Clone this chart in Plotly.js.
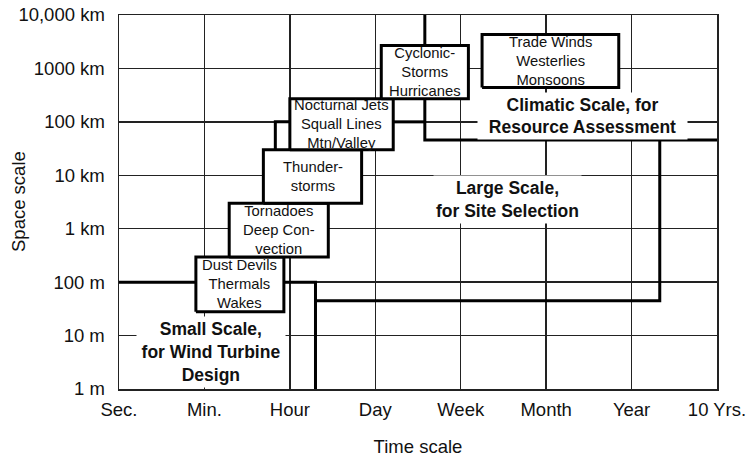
<!DOCTYPE html>
<html>
<head>
<meta charset="utf-8">
<script src="https://cdn.plot.ly/plotly-3.0.1.min.js"></script>
<style>html,body{margin:0;padding:0;background:#fff;}#chart{width:748px;height:457px;}</style>
</head>
<body>
<div id="chart"></div>
<script>
// Axis categories and ticks
const timeLabels = ['Sec.', 'Min.', 'Hour', 'Day', 'Week', 'Month', 'Year', '10 Yrs.'];
const spaceTicks = [1, 10, 100, 1000, 1e4, 1e5, 1e6, 1e7];
const spaceLabels = ['1 m', '10 m', '100 m', '1 km', '10 km', '100 km', '1000 km', '10,000 km'];
const xTitle = 'Time scale';
const yTitle = 'Space scale';

// Phenomena boxes (time in category units, space in metres)
const phenomena = ['Dust Devils<br>Thermals<br>Wakes', 'Tornadoes<br>Deep Con-<br>vection', 'Thunder-<br>storms',
  'Nocturnal Jets<br>Squall Lines<br>Mtn/Valley', 'Cyclonic-<br>Storms<br>Hurricanes', 'Trade Winds<br>Westerlies<br>Monsoons'];
const timeStart = [0.90, 1.29, 1.69, 2.00, 3.07, 4.25];
const timeEnd   = [1.93, 2.45, 2.84, 3.21, 4.09, 5.85];
const spaceMin  = [28, 295, 3000, 30000, 270000, 440000];
const spaceMax  = [295, 3000, 30000, 270000, 2700000, 4300000];

// Scale boundary lines
const smallBoundaryTime = [0, 2.30, 2.30];
const smallBoundarySpace = [100, 100, 1];
const largeBoundaryTime = [2.30, 6.33, 6.33];
const largeBoundarySpace = [45, 45, 45700];
const climaticBoundaryTime = [3.58, 3.58, 7];
const climaticBoundarySpace = [1e7, 45700, 45700];
const jetStepTime = [1.83, 1.83, 2.0];
const jetStepSpace = [30000, 1e5, 1e5];
const jetRightTime = [3.21, 3.58];
const jetRightSpace = [1e5, 1e5];

// Scale region labels
const regionLabels = ['<b>Small Scale,<br>for Wind Turbine<br>Design</b>', '<b>Large Scale,<br>for Site Selection</b>',
  '<b>Climatic Scale, for<br>Resource Assessment</b>'];
const regionTime = [1.08, 4.55, 5.43];
const regionSpace = [5.0, 3500, 128000];

const FONT = 'Liberation Sans, Arial, Helvetica, sans-serif';
const lineStyle = {color: '#000', width: 3};

const traces = [];
function addLine(x, y) {
  traces.push({x: x, y: y, type: 'scatter', mode: 'lines', line: lineStyle, hoverinfo: 'skip', showlegend: false});
}
addLine(smallBoundaryTime, smallBoundarySpace);
addLine(largeBoundaryTime, largeBoundarySpace);
addLine(climaticBoundaryTime, climaticBoundarySpace);
addLine(jetStepTime, jetStepSpace);
addLine(jetRightTime, jetRightSpace);

for (let i = 0; i < phenomena.length; i++) {
  traces.push({
    x: [timeStart[i], timeEnd[i], timeEnd[i], timeStart[i], timeStart[i]],
    y: [spaceMin[i], spaceMin[i], spaceMax[i], spaceMax[i], spaceMin[i]],
    type: 'scatter', mode: 'lines', fill: 'toself', fillcolor: '#fff',
    line: lineStyle, hoverinfo: 'skip', showlegend: false
  });
}

const annotations = [];
for (let i = 0; i < phenomena.length; i++) {
  annotations.push({
    x: (timeStart[i] + timeEnd[i]) / 2,
    y: (Math.log10(spaceMin[i]) + Math.log10(spaceMax[i])) / 2,
    xref: 'x', yref: 'y', text: phenomena[i], showarrow: false,
    font: {family: FONT, size: 14.8, color: '#111'}
  });
}
const regionSizes = [[144, 66], [null, null], [205, 42]];
for (let i = 0; i < regionLabels.length; i++) {
  const a = {
    x: regionTime[i], y: Math.log10(regionSpace[i]), xref: 'x', yref: 'y',
    text: regionLabels[i], showarrow: false, bgcolor: '#fff', borderpad: 2,
    font: {family: FONT, size: 17.5, color: '#111'}
  };
  if (regionSizes[i][0]) { a.width = regionSizes[i][0]; a.height = regionSizes[i][1]; }
  annotations.push(a);
}
// y-axis title placed like the reference (close to the left edge)
annotations.push({
  x: 0, y: 0.5, xref: 'paper', yref: 'paper', xanchor: 'center', yanchor: 'middle',
  xshift: -101, text: yTitle, textangle: -90, showarrow: false,
  font: {family: FONT, size: 18.5, color: '#111'}
});

const layout = {
  width: 748, height: 457,
  margin: {l: 119, r: 31, t: 15, b: 68},
  paper_bgcolor: '#fff', plot_bgcolor: '#fff',
  font: {family: FONT, size: 18.5, color: '#111'},
  showlegend: false,
  xaxis: {
    range: [0, 7], tickvals: timeLabels.map((_, i) => i), ticktext: timeLabels,
    showgrid: true, gridcolor: '#222', gridwidth: 1.3, zeroline: false,
    showline: true, linecolor: '#222', linewidth: 1.5, mirror: true, ticks: '',
    ticklabelstandoff: 3,
    tickfont: {family: FONT, size: 18.5, color: '#111'},
    title: {text: xTitle, font: {family: FONT, size: 18.5, color: '#111'}, standoff: 24}
  },
  yaxis: {
    type: 'log', range: [0, 7], tickvals: spaceTicks, ticktext: spaceLabels,
    showgrid: true, gridcolor: '#222', gridwidth: 1.3, zeroline: false,
    showline: true, linecolor: '#222', linewidth: 1.5, mirror: true, ticks: '',
    ticklabelstandoff: 9,
    tickfont: {family: FONT, size: 18.5, color: '#111'}
  },
  annotations: annotations
};

Plotly.newPlot('chart', traces, layout, {displayModeBar: false, staticPlot: true});
</script>
</body>
</html>
